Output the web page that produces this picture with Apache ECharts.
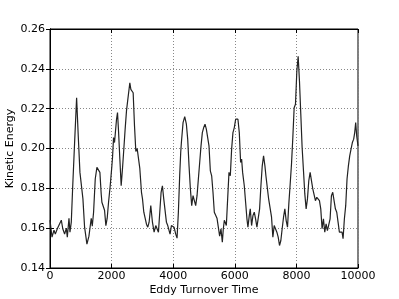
<!DOCTYPE html>
<html>
<head>
<meta charset="utf-8">
<script src="https://cdn.jsdelivr.net/npm/echarts@6/dist/echarts.min.js"></script>
<style>
  html, body { margin: 0; padding: 0; background: #fff; }
  #chart { width: 399px; height: 299px; }
</style>
</head>
<body>
<div id="chart"></div>
<script>
var times = [
    0, 65, 130, 172, 237, 280, 367, 415, 475, 530, 562, 616, 648, 691, 734, 799, 864, 918, 972, 1015,
    1069, 1123, 1199, 1264, 1339, 1372, 1415, 1469, 1523, 1577, 1620, 1663, 1685, 1728, 1771, 1814, 1857, 1901, 1955, 2009,
    2030, 2063, 2095, 2128, 2160, 2192, 2225, 2268, 2311, 2354, 2398, 2441, 2484, 2527, 2560, 2592, 2625, 2657, 2700, 2744,
    2787, 2830, 2873, 2916, 2970, 3003, 3046, 3089, 3132, 3175, 3218, 3272, 3326, 3380, 3434, 3477, 3521, 3564, 3607, 3650,
    3693, 3737, 3780, 3823, 3866, 3898, 3942, 3985, 4028, 4082, 4125, 4168, 4212, 4244, 4266, 4320, 4374, 4428, 4471, 4514,
    4558, 4601, 4644, 4687, 4730, 4774, 4817, 4860, 4903, 4946, 4990, 5033, 5076, 5119, 5162, 5206, 5249, 5292, 5335, 5378,
    5422, 5465, 5508, 5551, 5595, 5627, 5660, 5690, 5725, 5768, 5811, 5854, 5897, 5940, 5984, 6027, 6070, 6102, 6146, 6189,
    6221, 6254, 6308, 6351, 6394, 6426, 6470, 6502, 6545, 6589, 6632, 6675, 6718, 6762, 6805, 6848, 6891, 6934, 6978, 7010,
    7053, 7096, 7150, 7193, 7236, 7279, 7322, 7366, 7409, 7452, 7495, 7538, 7582, 7625, 7668, 7711, 7754, 7798, 7841, 7884,
    7927, 7970, 8014, 8057, 8078, 8100, 8143, 8186, 8230, 8273, 8316, 8359, 8402, 8446, 8478, 8532, 8575, 8618, 8662, 8705,
    8748, 8791, 8834, 8878, 8921, 8964, 9007, 9050, 9094, 9137, 9180, 9223, 9266, 9310, 9353, 9396, 9439, 9482, 9515, 9558,
    9601, 9644, 9688, 9731, 9774, 9817, 9860, 9893, 9925, 9958, 10000
];

var energy = [
    0.164, 0.1555, 0.159, 0.157, 0.1597, 0.159, 0.164, 0.1597, 0.157, 0.160, 0.1555, 0.165, 0.158, 0.163, 0.1797, 0.203, 0.2255, 0.206, 0.188, 0.189,
    0.1747, 0.1605, 0.152, 0.156, 0.165, 0.161, 0.168, 0.1847, 0.1905, 0.1905, 0.188, 0.177, 0.173, 0.1738, 0.169, 0.1613, 0.165, 0.173, 0.1813, 0.1913,
    0.1955, 0.2055, 0.203, 0.204, 0.2147, 0.218, 0.2088, 0.1947, 0.1813, 0.19, 0.2, 0.21, 0.219, 0.2247, 0.2247, 0.233, 0.2297, 0.2305, 0.228, 0.2113,
    0.1985, 0.20, 0.2005, 0.19, 0.178, 0.1747, 0.168, 0.167, 0.162, 0.1605, 0.163, 0.1713, 0.163, 0.158, 0.1613, 0.162, 0.158, 0.168, 0.178, 0.1813,
    0.1747, 0.1738, 0.163, 0.1613, 0.162, 0.157, 0.1613, 0.1605, 0.1605, 0.157, 0.155, 0.168, 0.187, 0.198, 0.203, 0.213, 0.216, 0.2122, 0.2047, 0.1913,
    0.1797, 0.1713, 0.1763, 0.1738, 0.1713, 0.1763, 0.1847, 0.193, 0.2013, 0.208, 0.2105, 0.2122, 0.2097, 0.2088, 0.2013, 0.1888, 0.1863, 0.178, 0.168, 0.167,
    0.165, 0.1605, 0.156, 0.1597, 0.153, 0.1597, 0.164, 0.1638, 0.1613, 0.1747, 0.188, 0.1863, 0.1997, 0.208, 0.2105, 0.2147, 0.2155, 0.2147, 0.208, 0.193,
    0.1947, 0.188, 0.1813, 0.173, 0.1647, 0.1605, 0.1663, 0.1697, 0.1613, 0.1663, 0.168, 0.1647, 0.1605, 0.1597, 0.1697, 0.1813, 0.1913, 0.1963, 0.1913, 0.1863,
    0.1863, 0.175, 0.1747, 0.1655, 0.1555, 0.1613, 0.1622, 0.158, 0.1555, 0.1513, 0.1538, 0.1597, 0.1655, 0.1697, 0.1638, 0.1605, 0.1722, 0.1822, 0.1922, 0.2055,
    0.2205, 0.2222, 0.2388, 0.2463, 0.247, 0.2338, 0.2172, 0.2005, 0.1888, 0.1772, 0.1697, 0.1747, 0.1838, 0.188, 0.188, 0.1797, 0.1788, 0.1738, 0.1755, 0.1755,
    0.1738, 0.1697, 0.1597, 0.1647, 0.158, 0.1622, 0.1588, 0.158, 0.1647, 0.1763, 0.178, 0.178, 0.1697, 0.168, 0.163, 0.158, 0.1572, 0.158, 0.1547, 0.1647,
    0.1713, 0.1847, 0.1913, 0.1963, 0.1997, 0.203, 0.2047, 0.208, 0.213, 0.2063, 0.2013
];

var xTicks = [0, 10000, 2000];      // min, max, interval
var yTicks = [0.14, 0.26, 0.02];

var chartDom = document.getElementById('chart');
var myChart = echarts.init(chartDom);

var seriesData = times.map(function (t, i) { return [t, energy[i]]; });

var font = 'DejaVu Sans';
var gridLine = { show: true, lineStyle: { color: '#888', type: [1, 2], width: 1 } };

var option = {
    animation: false,
    backgroundColor: '#fff',
    grid: {
        left: 50,
        right: 41,
        top: 29,
        bottom: 31,
        containLabel: false,
        outerBoundsMode: 'none',
        show: true,
        borderColor: '#000',
        borderWidth: 1
    },
    xAxis: [
        {
            type: 'value',
            min: xTicks[0],
            max: xTicks[1],
            interval: xTicks[2],
            name: 'Eddy Turnover Time',
            nameLocation: 'middle',
            nameGap: 17,
            nameMoveOverlap: false,
            nameTextStyle: { color: '#000', fontFamily: font, fontSize: 11 },
            axisLine: { show: true, lineStyle: { color: '#000' } },
            axisTick: { show: true, inside: true, length: 4, lineStyle: { color: '#000' } },
            axisLabel: {
                color: '#000', fontFamily: font, fontSize: 11, margin: 3,
                formatter: function (v) { return String(v); }
            },
            splitLine: gridLine
        },
        {
            type: 'value',
            position: 'top',
            min: xTicks[0],
            max: xTicks[1],
            interval: xTicks[2],
            axisLine: { show: true, lineStyle: { color: '#000' } },
            axisTick: { show: true, inside: true, length: 4, lineStyle: { color: '#000' } },
            axisLabel: { show: false },
            splitLine: { show: false }
        }
    ],
    yAxis: [
        {
            type: 'value',
            min: yTicks[0],
            max: yTicks[1],
            interval: yTicks[2],
            name: 'Kinetic Energy',
            nameLocation: 'middle',
            nameGap: 34,
            nameMoveOverlap: false,
            nameTextStyle: { color: '#000', fontFamily: font, fontSize: 11 },
            axisLine: { show: true, lineStyle: { color: '#000' } },
            axisTick: { show: true, inside: true, length: 4, lineStyle: { color: '#000' } },
            axisLabel: {
                color: '#000', fontFamily: font, fontSize: 11, margin: 5,
                formatter: function (v) { return v.toFixed(2); }
            },
            splitLine: gridLine
        },
        {
            type: 'value',
            position: 'right',
            min: yTicks[0],
            max: yTicks[1],
            interval: yTicks[2],
            axisLine: { show: true, lineStyle: { color: '#000' } },
            axisTick: { show: true, inside: true, length: 4, lineStyle: { color: '#000' } },
            axisLabel: { show: false },
            splitLine: { show: false }
        }
    ],
    series: [
        {
            type: 'line',
            data: seriesData,
            showSymbol: false,
            lineStyle: { color: '#222', width: 1.2 },
            xAxisIndex: 0,
            yAxisIndex: 0
        }
    ]
};
myChart.setOption(option);
</script>
</body>
</html>
